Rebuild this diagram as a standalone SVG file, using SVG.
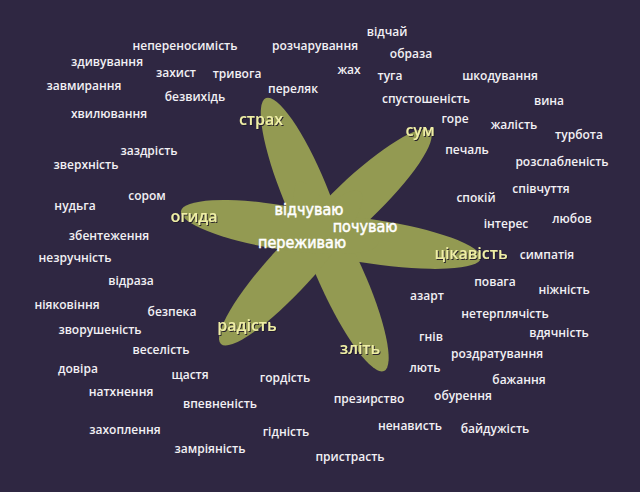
<svg xmlns="http://www.w3.org/2000/svg" width="640" height="492" viewBox="0 0 640 492">
<defs>
<style>
.w{font-family:"Open Sans","Noto Sans","DejaVu Sans",sans-serif;font-weight:600;font-size:12px;fill:#f2f0f4;text-anchor:middle}
.c{font-family:"Open Sans","Noto Sans","DejaVu Sans",sans-serif;font-weight:600;font-size:16px;fill:#efeea6;text-anchor:middle;filter:url(#sh)}
.m{font-family:"DejaVu Sans Condensed","DejaVu Sans",sans-serif;font-weight:400;font-size:16px;fill:#ffffff;stroke:#ffffff;stroke-width:0.5;text-anchor:middle}
.p{fill:#939a52}
</style>
<filter id="sh" x="-20%" y="-30%" width="140%" height="160%">
<feDropShadow dx="1" dy="1" stdDeviation="0.7" flood-color="#1a1426" flood-opacity="0.9"/>
</filter>
</defs>
<rect width="640" height="492" fill="#2f2742"/>
<g id="star">
<ellipse class="p" cx="0" cy="0" rx="102" ry="22.5" transform="translate(304.85,192.35) rotate(-112.4)"/>
<ellipse class="p" cx="0" cy="0" rx="103.1" ry="22.5" transform="translate(355.37,202.18) rotate(-43.6)"/>
<ellipse class="p" cx="0" cy="0" rx="108.9" ry="22" transform="translate(373.32,241.75) rotate(8.58)"/>
<ellipse class="p" cx="0" cy="0" rx="103.7" ry="22.5" transform="translate(341.25,276.54) rotate(65.65)"/>
<ellipse class="p" cx="0" cy="0" rx="103.2" ry="22.5" transform="translate(290.75,268.04) rotate(132.56)"/>
<ellipse class="p" cx="0" cy="0" rx="99.95" ry="22" transform="translate(279.62,227.09) rotate(-170.74)"/>
</g>
<g id="center">
<text class="m" x="309" y="215">відчуваю</text>
<text class="m" x="365" y="232">почуваю</text>
<text class="m" x="302" y="248">переживаю</text>
</g>
<g id="categories">
<text class="c" x="261" y="125">страх</text>
<text class="c" x="420" y="136">сум</text>
<text class="c" x="194" y="222">огида</text>
<text class="c" x="471" y="259">цікавість</text>
<text class="c" x="247" y="331">радість</text>
<text class="c" x="360" y="354">зліть</text>
</g>
<g id="words">
<text class="w" x="185" y="50">непереносимість</text>
<text class="w" x="315" y="50">розчарування</text>
<text class="w" x="387" y="36">відчай</text>
<text class="w" x="411" y="58">образа</text>
<text class="w" x="107" y="66">здивування</text>
<text class="w" x="176" y="77">захист</text>
<text class="w" x="237" y="78">тривога</text>
<text class="w" x="349" y="74">жах</text>
<text class="w" x="390" y="80">туга</text>
<text class="w" x="500" y="80">шкодування</text>
<text class="w" x="84" y="90">завмирання</text>
<text class="w" x="293" y="93">переляк</text>
<text class="w" x="195" y="101">безвихідь</text>
<text class="w" x="426" y="103">спустошеність</text>
<text class="w" x="549" y="105">вина</text>
<text class="w" x="109" y="118">хвилювання</text>
<text class="w" x="455" y="123">горе</text>
<text class="w" x="514" y="129">жалість</text>
<text class="w" x="579" y="139">турбота</text>
<text class="w" x="149" y="155">заздрість</text>
<text class="w" x="467" y="154">печаль</text>
<text class="w" x="562" y="166">розслабленість</text>
<text class="w" x="86" y="169">зверхність</text>
<text class="w" x="541" y="193">співчуття</text>
<text class="w" x="147" y="200">сором</text>
<text class="w" x="476" y="202">спокій</text>
<text class="w" x="75" y="210">нудьга</text>
<text class="w" x="572" y="223">любов</text>
<text class="w" x="506" y="228">інтерес</text>
<text class="w" x="109" y="240">збентеження</text>
<text class="w" x="547" y="259">симпатія</text>
<text class="w" x="75" y="262">незручність</text>
<text class="w" x="131" y="285">відраза</text>
<text class="w" x="495" y="286">повага</text>
<text class="w" x="564" y="294">ніжність</text>
<text class="w" x="427" y="300">азарт</text>
<text class="w" x="67" y="309">ніяковіння</text>
<text class="w" x="172" y="316">безпека</text>
<text class="w" x="505" y="318">нетерплячість</text>
<text class="w" x="100" y="334">зворушеність</text>
<text class="w" x="559" y="337">вдячність</text>
<text class="w" x="431" y="341">гнів</text>
<text class="w" x="161" y="354">веселість</text>
<text class="w" x="497" y="358">роздратування</text>
<text class="w" x="425" y="372">лють</text>
<text class="w" x="78" y="373">довіра</text>
<text class="w" x="190" y="379">щастя</text>
<text class="w" x="285" y="382">гордість</text>
<text class="w" x="519" y="384">бажання</text>
<text class="w" x="121" y="396">натхнення</text>
<text class="w" x="463" y="400">обурення</text>
<text class="w" x="369" y="403">презирство</text>
<text class="w" x="220" y="408">впевненість</text>
<text class="w" x="410" y="430">ненависть</text>
<text class="w" x="495" y="433">байдужість</text>
<text class="w" x="125" y="434">захоплення</text>
<text class="w" x="286" y="436">гідність</text>
<text class="w" x="210" y="453">замріяність</text>
<text class="w" x="350" y="461">пристрасть</text>
</g>
</svg>
